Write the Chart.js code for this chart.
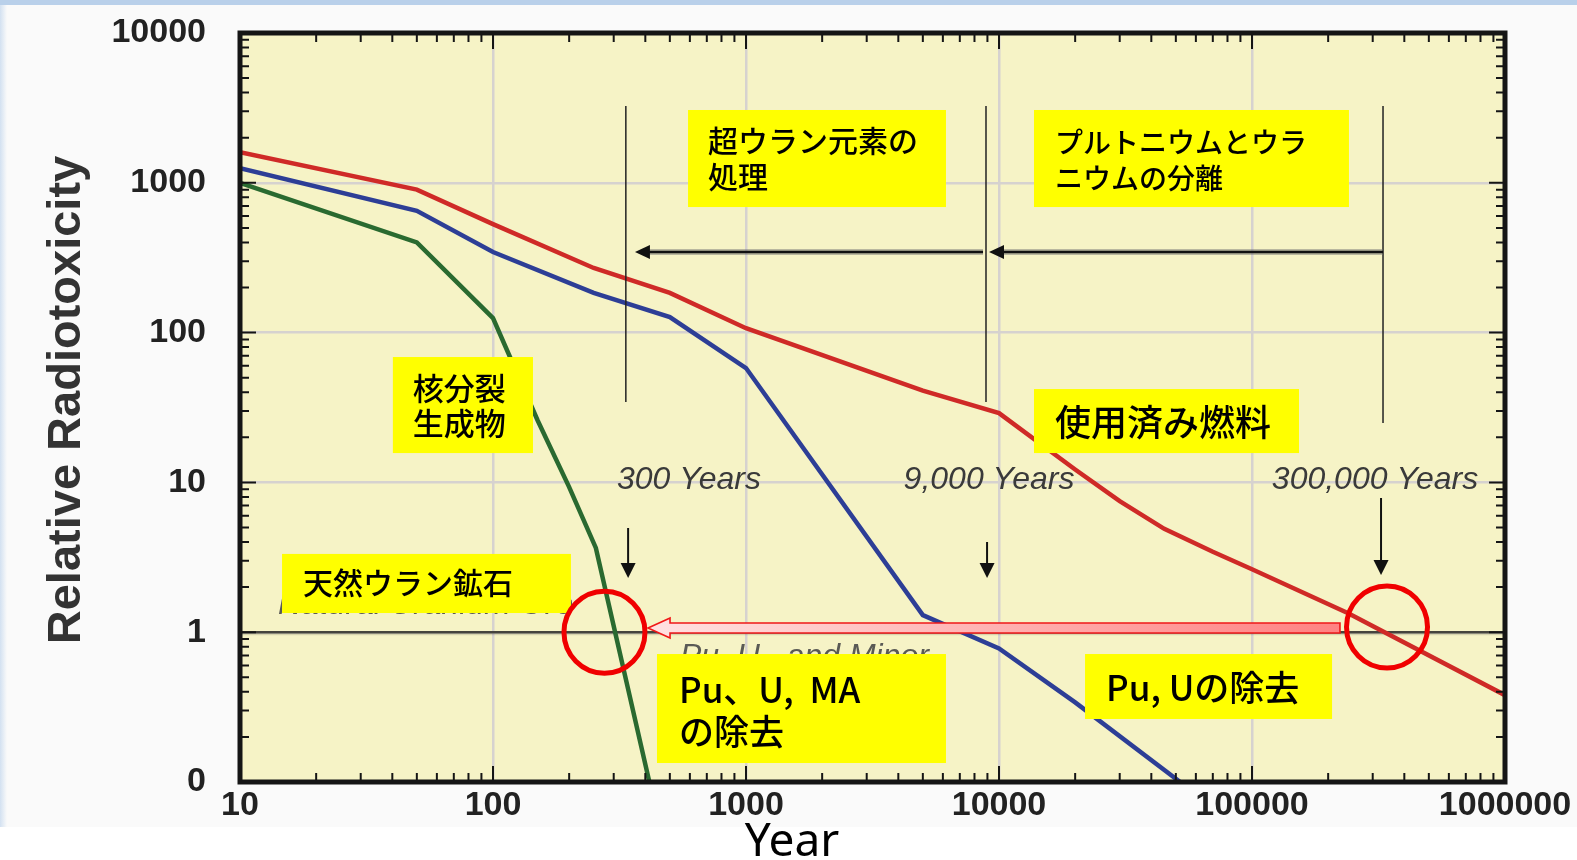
<!DOCTYPE html>
<html lang="ja">
<head>
<meta charset="utf-8">
<title>Relative Radiotoxicity</title>
<script src="https://cdn.jsdelivr.net/npm/chart.js@4.4.1/dist/chart.umd.min.js"></script>
<style>
  body { margin: 0; background: #fff; }
  #wrap {
    position: relative; width: 1577px; height: 860px;
    background: linear-gradient(to bottom, #b9d0ea 0, #b9d0ea 5px, #fafafa 5px, #fafafa 827px, #fff 827px);
  }
  #edge {
    position: absolute; left: 0; top: 5px; width: 7px; height: 822px;
    background: linear-gradient(to right, #d3e1f1, #fafafa);
  }
  canvas { position: absolute; left: 0; top: 0; }
</style>
</head>
<body>
<div id="wrap"><div id="edge"></div><canvas id="chart" width="1577" height="860"></canvas></div>
<script>
// axes
const yearTicks = [10, 100, 1000, 10000, 100000, 1000000];
const yearTickLabels = ['10', '100', '1000', '10000', '100000', '1000000'];
const toxTicks = [0.1, 1, 10, 100, 1000, 10000];
const toxTickLabels = ['0', '1', '10', '100', '1000', '10000'];
const minorSteps = [2, 3, 4, 5, 6, 7, 8, 9];

// 使用済み燃料
const spentYears = [10, 50, 100, 250, 500, 1000, 5000, 10000, 20000, 30000, 45000, 70000, 100000, 240000, 1000000];
const spentTox = [1600, 900, 530, 270, 184, 107, 41, 29, 12.2, 7.5, 4.9, 3.44, 2.63, 1.34, 0.38];
// Pu, U の除去
const puuYears = [10, 50, 100, 250, 500, 1000, 5000, 10000, 20000, 52000];
const puuTox = [1250, 650, 345, 184, 127, 58, 1.3, 0.78, 0.34, 0.1];
// Pu, U, MA の除去 (核分裂生成物)
const fpYears = [10, 50, 100, 150, 200, 255, 415];
const fpTox = [1000, 400, 125, 26, 9.3, 3.65, 0.1];

// annotations, in data coordinates (year, radiotoxicity)
const oreLevel = 1;
const spanMarks = [
  { x: 335, from: 3256, to: 34.4 },
  { x: 8884, from: 3256, to: 34.4 },
  { x: 329500, from: 3256, to: 24.9 }
];
const leftArrows = [
  { from: 8647, to: 364, y: 345 },
  { from: 329500, to: 9130, y: 345 }
];
const downArrows = [
  { x: 342, from: 4.96, to: 2.3 },
  { x: 8970, from: 4.0, to: 2.3 },
  { x: 323600, from: 7.87, to: 2.41 }
];
const yearNotes = [
  { text: '300 Years', x: 595, y: 10.4 },
  { text: '9,000 Years', x: 9130, y: 10.4 },
  { text: '300,000 Years', x: 306400, y: 10.4 }
];
const hiddenNotes = [
  { text: 'Natural Uranium Ore', x: 14.13, y: 1.32 },
  { text: 'Pu, U,  and Minor', x: 548, y: 0.595 }
];
const bigArrow = { from: 222700, to: 410, y: 1.066 };
const rings = [{ x: 275.8, y: 1.0 }, { x: 341700, y: 1.083 }];
const boxes = [
  { lines: ['超ウラン元素の', '処理'], x0: 590, x1: 6172, y0: 3062, y1: 689, size: 30, dx: 20, dy: [31, 67] },
  { lines: ['プルトニウムとウラ', 'ニウムの分離'], x0: 13750, x1: 241700, y0: 3062, y1: 689, size: 28, dx: 21, dy: [32, 68] },
  { lines: ['核分裂', '生成物'], x0: 40.2, x1: 143.9, y0: 68.7, y1: 15.7, size: 31, dx: 20, dy: [31, 66] },
  { lines: ['使用済み燃料'], x0: 13750, x1: 153400, y0: 42.0, y1: 15.7, size: 36, dx: 21, dy: [33] },
  { lines: ['天然ウラン鉱石'], x0: 14.66, x1: 203.3, y0: 3.33, y1: 1.343, size: 30, dx: 21, dy: [29] },
  { lines: ['Pu、U,  MA', 'の除去'], x0: 444.8, x1: 6172, y0: 0.715, y1: 0.1339, size: 35, dx: 22, dy: [36, 78] },
  { lines: ['Pu, Uの除去'], x0: 21880, x1: 207200, y0: 0.715, y1: 0.2634, size: 35, dx: 21, dy: [34] }
];

const $ = id => document.getElementById(id);
const NUM_FONT = "'Liberation Sans', Arial, sans-serif";
const JP_FONT = "'Noto Sans CJK JP', sans-serif";

function series(label, xs, ys, color) {
  return {
    label,
    data: xs.map((x, i) => ({ x, y: ys[i] })),
    borderColor: color,
    borderWidth: 4.5,
    pointRadius: 0,
    tension: 0,
    clip: 0
  };
}

function head(ctx, x, y, dx, dy, len, half) {
  ctx.beginPath();
  ctx.moveTo(x, y);
  ctx.lineTo(x - dx * len - dy * half, y - dy * len + dx * half);
  ctx.lineTo(x - dx * len + dy * half, y - dy * len - dx * half);
  ctx.closePath();
  ctx.fill();
}

const paperPlugin = {
  id: 'paper',
  beforeDraw(chart) {
    const { ctx, chartArea: a } = chart;
    ctx.save();
    ctx.fillStyle = 'rgb(246, 243, 198)';
    ctx.fillRect(a.left, a.top, a.right - a.left, a.bottom - a.top);
    ctx.restore();
  },
  beforeDatasetsDraw(chart) {
    const { ctx, chartArea: a, scales: { y } } = chart;
    const py = y.getPixelForValue(oreLevel);
    ctx.save();
    ctx.strokeStyle = 'rgba(0,0,0,0.12)';
    ctx.lineWidth = 2;
    ctx.beginPath(); ctx.moveTo(a.left, py + 2); ctx.lineTo(a.right, py + 2); ctx.stroke();
    ctx.strokeStyle = '#45443d';
    ctx.lineWidth = 2.5;
    ctx.beginPath(); ctx.moveTo(a.left, py); ctx.lineTo(a.right, py); ctx.stroke();
    ctx.restore();
  },
  afterDraw(chart) {
    const { ctx, chartArea: a, scales: { x, y } } = chart;
    ctx.save();
    // frame and inward ticks on all four sides
    ctx.strokeStyle = '#151515';
    ctx.lineWidth = 2;
    ctx.beginPath();
    yearTicks.forEach((base, k) => {
      [1, ...minorSteps].forEach(m => {
        const v = base * m;
        if (v > x.max || (m > 1 && k === yearTicks.length - 1)) return;
        const px = x.getPixelForValue(v);
        const len = m === 1 ? 16 : 9;
        ctx.moveTo(px, a.bottom); ctx.lineTo(px, a.bottom - len);
        ctx.moveTo(px, a.top); ctx.lineTo(px, a.top + len);
      });
    });
    toxTicks.forEach((base, k) => {
      [1, ...minorSteps].forEach(m => {
        const v = base * m;
        if (v > y.max || (m > 1 && k === toxTicks.length - 1)) return;
        const py = y.getPixelForValue(v);
        const len = m === 1 ? 16 : 9;
        ctx.moveTo(a.left, py); ctx.lineTo(a.left + len, py);
        ctx.moveTo(a.right, py); ctx.lineTo(a.right - len, py);
      });
    });
    ctx.stroke();
    ctx.lineWidth = 5;
    ctx.strokeRect(a.left, a.top, a.right - a.left, a.bottom - a.top);

    // axis titles
    ctx.fillStyle = '#333';
    ctx.font = `bold 47px ${NUM_FONT}`;
    ctx.textAlign = 'center';
    ctx.textBaseline = 'alphabetic';
    ctx.save();
    ctx.translate(80, 400);
    ctx.rotate(-Math.PI / 2);
    ctx.fillText('Relative Radiotoxicity', 0, 0);
    ctx.restore();
    ctx.fillStyle = '#000';
    ctx.font = "46px 'Noto Sans', sans-serif";
    ctx.fillText('Year', 792, 856);
    ctx.restore();
  }
};

const notesPlugin = {
  id: 'notes',
  afterDatasetsDraw(chart) {
    const { ctx, scales: { x, y } } = chart;
    const X = v => x.getPixelForValue(v);
    const Y = v => y.getPixelForValue(v);
    ctx.save();

    // grey labels mostly hidden behind the yellow boxes
    ctx.fillStyle = '#5a5a55';
    ctx.font = `italic 32px ${NUM_FONT}`;
    ctx.textAlign = 'left';
    ctx.textBaseline = 'alphabetic';
    hiddenNotes.forEach(n => ctx.fillText(n.text, X(n.x), Y(n.y)));

    // period markers
    ctx.strokeStyle = '#222';
    ctx.lineWidth = 1.5;
    spanMarks.forEach(s => {
      ctx.beginPath();
      ctx.moveTo(X(s.x), Y(s.from));
      ctx.lineTo(X(s.x), Y(s.to));
      ctx.stroke();
    });

    leftArrows.forEach(r => {
      const x0 = X(r.from), x1 = X(r.to), py = Y(r.y);
      ctx.strokeStyle = 'rgba(110,110,110,0.45)';
      ctx.lineWidth = 6;
      ctx.beginPath(); ctx.moveTo(x0, py); ctx.lineTo(x1 + 12, py); ctx.stroke();
      ctx.strokeStyle = '#111';
      ctx.lineWidth = 2.5;
      ctx.beginPath(); ctx.moveTo(x0, py); ctx.lineTo(x1 + 12, py); ctx.stroke();
      ctx.fillStyle = '#111';
      head(ctx, x1, py, -1, 0, 15, 7);
    });

    ctx.strokeStyle = '#111';
    ctx.fillStyle = '#111';
    ctx.lineWidth = 2;
    downArrows.forEach(d => {
      const px = X(d.x), y0 = Y(d.from), y1 = Y(d.to);
      ctx.beginPath(); ctx.moveTo(px, y0); ctx.lineTo(px, y1 - 10); ctx.stroke();
      head(ctx, px, y1, 0, 1, 15, 7.5);
    });

    ctx.fillStyle = '#3a3a3a';
    ctx.font = `italic 32px ${NUM_FONT}`;
    ctx.textAlign = 'center';
    ctx.textBaseline = 'middle';
    yearNotes.forEach(n => ctx.fillText(n.text, X(n.x), Y(n.y)));

    // big pink arrow along the natural uranium level
    const tx = X(bigArrow.to), ex = X(bigArrow.from), ty = Y(bigArrow.y);
    const grad = ctx.createLinearGradient(tx, 0, ex, 0);
    grad.addColorStop(0, '#ffe2e2');
    grad.addColorStop(1, '#ff8282');
    ctx.beginPath();
    ctx.moveTo(tx, ty);
    ctx.lineTo(tx + 22, ty - 10);
    ctx.lineTo(tx + 22, ty - 5);
    ctx.lineTo(ex, ty - 5);
    ctx.lineTo(ex, ty + 5);
    ctx.lineTo(tx + 22, ty + 5);
    ctx.lineTo(tx + 22, ty + 10);
    ctx.closePath();
    ctx.fillStyle = grad;
    ctx.fill();
    ctx.strokeStyle = '#f01818';
    ctx.lineWidth = 1.6;
    ctx.stroke();

    // yellow labels
    boxes.forEach(b => {
      const bx = X(b.x0), by = Y(b.y0);
      ctx.fillStyle = '#ffff00';
      ctx.fillRect(bx, by, X(b.x1) - bx, Y(b.y1) - by);
      ctx.fillStyle = '#000';
      ctx.font = `500 ${b.size}px ${JP_FONT}`;
      ctx.textAlign = 'left';
      ctx.textBaseline = 'middle';
      b.lines.forEach((t, i) => ctx.fillText(t, bx + b.dx, by + b.dy[i]));
    });

    ctx.strokeStyle = '#f00000';
    ctx.lineWidth = 5;
    rings.forEach(r => {
      ctx.beginPath();
      ctx.ellipse(X(r.x), Y(r.y), 40.5, 41, 0, 0, Math.PI * 2);
      ctx.stroke();
    });
    ctx.restore();
  }
};

const gridColor = '#d6d2cf';

new Chart($('chart'), {
  type: 'line',
  data: {
    datasets: [
      series('使用済み燃料', spentYears, spentTox, '#cf2a27'),
      series('Pu, Uの除去', puuYears, puuTox, '#2d3e96'),
      series('Pu、U、MAの除去', fpYears, fpTox, '#2a6a30')
    ]
  },
  options: {
    responsive: false,
    animation: false,
    devicePixelRatio: 1,
    layout: { padding: { top: 33, right: 72, left: 0, bottom: 0 } },
    plugins: { legend: { display: false }, tooltip: { enabled: false } },
    scales: {
      x: {
        type: 'logarithmic',
        min: 10,
        max: 1000000,
        afterFit: s => { s.height = 78; s.paddingLeft = 0; s.paddingRight = 0; },
        afterBuildTicks: s => { s.ticks = yearTicks.map(v => ({ value: v })); },
        grid: { color: gridColor, lineWidth: 2.5, drawTicks: false },
        border: { display: false },
        ticks: {
          autoSkip: false,
          maxRotation: 0,
          padding: 3,
          color: '#222',
          font: { family: NUM_FONT, size: 34, weight: 'bold' },
          callback: (v, i) => yearTickLabels[i]
        }
      },
      y: {
        type: 'logarithmic',
        min: 0.1,
        max: 10000,
        afterFit: s => { s.width = 240; s.paddingTop = 0; s.paddingBottom = 0; },
        afterBuildTicks: s => { s.ticks = toxTicks.map(v => ({ value: v })); },
        grid: { color: gridColor, lineWidth: 2.5, drawTicks: false },
        border: { display: false },
        ticks: {
          autoSkip: false,
          padding: 34,
          labelOffset: 0,
          color: '#222',
          font: { family: NUM_FONT, size: 34, weight: 'bold' },
          callback: (v, i) => toxTickLabels[i]
        }
      }
    }
  },
  plugins: [paperPlugin, notesPlugin]
});
</script>
</body>
</html>
